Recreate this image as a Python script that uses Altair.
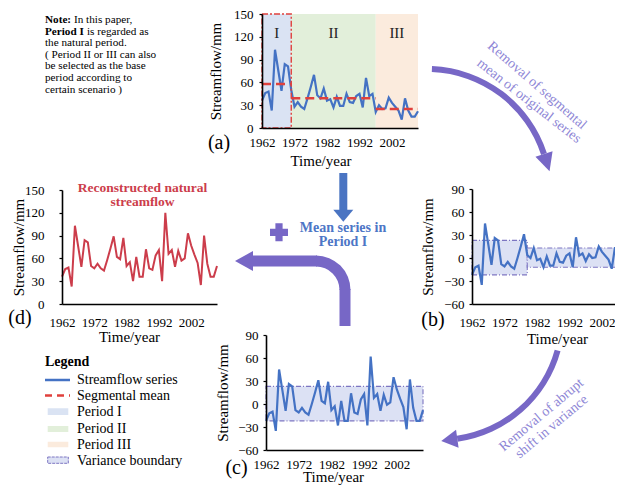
import math
import altair as alt
import pandas as pd

# ---------------- data ----------------
YEARS = list(range(1962, 2011))

# (a) original streamflow series (mm)
ORIGINAL = [36, 46, 48, 23, 103, 76, 49, 84, 81, 50,
            28, 34, 28, 25, 39, 54, 70, 43, 39, 52,
            36, 38, 27, 41, 29, 29, 45, 34, 33, 42,
            45, 27, 66, 42, 45, 21, 30, 25, 26, 40,
            33, 28, 23, 11, 39, 23, 15, 15, 22]

# (b) series after removal of segmental mean
DEMEANED = [-22, -12, -10, -35, 45, 18, -9, 26, 23, -8,
            -11, -5, -11, -14, 0, 15, 31, 4, 0, 13,
            -3, -1, -12, 2, -10, -10, 6, -5, -6, 3,
            6, -12, 27, 3, 6, -4, 5, 0, 1, 15,
            8, 3, -2, -14, 14, -2, -10, -10, -3]

# (c) series after removal of abrupt shift in variance
RESCALED = [-22, -12, -10, -35, 45, 18, -9, 26, 23, -8,
            -11, -5, -11, -14, 0, 15, 31, 4, 1, 29,
            -8, -3, -28, 4, -22, -22, 14, -11, -13, 6,
            13, -28, 62, 8, 13, -9, 12, -1, 2, 35,
            19, 7, -4, -33, 32, -5, -22, -22, -8]

# (d) reconstructed natural streamflow
RECONSTRUCTED = [36, 46, 48, 23, 103, 76, 49, 84, 81, 50,
                 47, 53, 47, 44, 58, 73, 89, 62, 59, 87,
                 50, 55, 30, 62, 36, 36, 72, 47, 45, 64,
                 71, 30, 120, 66, 71, 49, 70, 57, 60, 93,
                 77, 65, 54, 25, 90, 53, 36, 36, 50]

PERIOD_NAMES = ["I", "II", "III"]
PERIOD_START = [1962, 1971, 1997]
PERIOD_END = [1971, 1997, 2010]
PERIOD_MEAN = [58, 39, 25]

BOX_B_START = [1962, 1979]
BOX_B_END = [1979, 2010]
BOX_B_LOW = [-22, -12]
BOX_B_HIGH = [23, 13]

BOX_C_START = [1962]
BOX_C_END = [2010]
BOX_C_LOW = [-22]
BOX_C_HIGH = [23]

X_TICKS = [1962, 1972, 1982, 1992, 2002]
Y_TICKS_POS = [0, 30, 60, 90, 120, 150]
Y_TICKS_DEV = [-60, -30, 0, 30, 60, 90]

NOTE_LINES = ["the natural period.", "( Period II or III can also",
              "be selected as the base", "period according to", "certain scenario )"]
LEGEND_LABELS = ["Streamflow series", "Segmental mean", "Period I", "Period II",
                 "Period III", "Variance boundary"]

# ---------------- styles ----------------
FONT = "Liberation Serif"
W, H = 607, 479
BLUE = "#4472C4"
RED_MEAN = "#E0403C"
RED_LINE = "#CC3D4B"
PURPLE = "#7767C6"
PURPLE_TEXT = "#8E86D6"
ARROW_BLUE = "#4A74C2"
TEXT_BLUE = "#4D76C6"
PERIOD_FILL = ["#DAE3F3", "#E2EFDA", "#FBEBDD"]
BOX_FILL = "#DCE1F4"
BOX_STROKE = "#7D76C2"

ONE = pd.DataFrame({"k": [0]})


def x_scale(x0, x1):
    return alt.Scale(domain=[1962, 2010], range=[x0, x1], nice=False, zero=False)


def y_scale(lo, hi, ybot, ytop):
    return alt.Scale(domain=[lo, hi], range=[ybot, ytop], nice=False, zero=False)


def x_axis(ybot, label_pad, title_pad, title_x):
    return alt.Axis(orient="bottom", offset=ybot - H, values=X_TICKS, format="d", ticks=False,
                    domainColor="#000", domainWidth=1.6, labelFont=FONT, labelFontSize=13,
                    labelColor="#000", labelPadding=label_pad, labelFlush=False, labelOverlap=False,
                    title="Time/year", titleFont=FONT, titleFontSize=15, titleFontWeight=400,
                    titleColor="#000", titlePadding=title_pad, titleX=title_x, grid=False, zindex=3)


def y_axis(x0, values, label_pad, title_pad):
    return alt.Axis(orient="left", offset=-x0, values=values, ticks=True, tickSize=3,
                    tickColor="#000", tickWidth=1.2, domainColor="#000", domainWidth=1.6,
                    labelFont=FONT, labelFontSize=13, labelColor="#000", labelPadding=label_pad,
                    labelFlush=False, labelOverlap=False, title="Streamflow/mm", titleFont=FONT,
                    titleFontSize=15, titleFontWeight=400, titleColor="#000",
                    titlePadding=title_pad, grid=False, zindex=3)


def text(t, x, y, size=14, weight="normal", color="#000", align="left", angle=None):
    kw = dict(text=t, font=FONT, fontSize=size, fontWeight=weight, color=color,
              align=align, baseline="middle")
    if angle is not None:
        kw["angle"] = angle
    return alt.Chart(ONE).mark_text(**kw).encode(x=alt.value(x), y=alt.value(y))


def band(color, width, x, y, x2=None, y2=None, dash=None):
    enc = dict(x=alt.value(x), y=alt.value(y))
    if x2 is not None:
        enc["x2"] = alt.value(x2)
    if y2 is not None:
        enc["y2"] = alt.value(y2)
    kw = dict(color=color, strokeWidth=width)
    if dash:
        kw["strokeDash"] = dash
    return alt.Chart(ONE).mark_rule(**kw).encode(**enc)


def box(x, x2, y, y2, fill, stroke=None, dash=None):
    kw = dict(fill=fill)
    if stroke:
        kw.update(stroke=stroke, strokeWidth=1, strokeDash=dash)
    return alt.Chart(ONE).mark_rect(**kw).encode(
        x=alt.value(x), x2=alt.value(x2), y=alt.value(y), y2=alt.value(y2))


def arc(cx, cy, r_in, r_out, t0, t1, color):
    return alt.Chart(ONE).mark_arc(color=color, theta=t0, theta2=t1, radius=r_out,
                                   radius2=r_in).encode(x=alt.value(cx), y=alt.value(cy))


def head(x, y, angle, size, color, path):
    return alt.Chart(ONE).mark_point(shape=path, filled=True, size=size, angle=angle,
                                     color=color, opacity=1, strokeWidth=0).encode(
        x=alt.value(x), y=alt.value(y))


def arc_head(cx, cy, r, t, length, size, color, path):
    ex, ey = cx + r * math.sin(t), cy - r * math.cos(t)
    dx, dy = math.cos(t), math.sin(t)
    ang = math.degrees(math.atan2(dx, -dy)) % 360
    return head(ex + dx * length / 2, ey + dy * length / 2, ang, size, color, path)


# ---------------- panel (a) ----------------
periods = pd.DataFrame({"name": PERIOD_NAMES, "start": PERIOD_START,
                        "end": PERIOD_END, "mean": PERIOD_MEAN})
df_a = pd.DataFrame({"year": YEARS, "value": ORIGINAL})
A_X, A_Y = (254, 410), (120, 6)


def xa(axis=None, field="start:Q"):
    return alt.X(field, scale=x_scale(*A_X), axis=axis)


def ya(field, axis=None):
    return alt.Y(field, scale=y_scale(0, 150, *A_Y), axis=axis)


rects_a = alt.Chart(periods).transform_calculate(lo="0", hi="150").mark_rect().encode(
    x=xa(), x2="end:Q", y=ya("lo:Q"), y2="hi:Q",
    fill=alt.Fill("name:N", scale=alt.Scale(domain=PERIOD_NAMES, range=PERIOD_FILL), legend=None))
border_a = alt.Chart(periods).transform_filter(alt.datum.name == "I").transform_calculate(
    lo="0", hi="150").mark_rect(fillOpacity=0, stroke=RED_MEAN, strokeWidth=1.4,
                                strokeDash=[6, 2, 2, 2]).encode(
    x=xa(), x2="end:Q", y=ya("lo:Q"), y2="hi:Q")
roman_a = alt.Chart(periods).transform_calculate(
    mid="(datum.start + datum.end) / 2", ly="125").mark_text(
    font=FONT, fontSize=15, color="#222").encode(
    x=xa(field="mid:Q"), y=ya("ly:Q"), text="name:N")
line_a = alt.Chart(df_a).mark_line(color=BLUE, strokeWidth=2.2).encode(
    x=xa(x_axis(120, 8, 4, 312.5), "year:Q"),
    y=ya("value:Q", y_axis(254, Y_TICKS_POS, 6, 10)))
means_a = alt.Chart(periods).mark_rule(color=RED_MEAN, strokeDash=[9, 5], strokeWidth=2.5).encode(
    x=xa(), x2="end:Q", y=ya("mean:Q"))
panel_a = [rects_a, roman_a, line_a, means_a, border_a]

# ---------------- panel (b) ----------------
boxes_b = pd.DataFrame({"start": BOX_B_START, "end": BOX_B_END, "low": BOX_B_LOW, "high": BOX_B_HIGH})
df_b = pd.DataFrame({"year": YEARS, "value": DEMEANED})
B_X, B_Y = (464, 620), (296, 181)
rect_b = alt.Chart(boxes_b).mark_rect(fill=BOX_FILL, stroke=BOX_STROKE, strokeWidth=1.1,
                                      strokeDash=[5, 2, 1, 2]).encode(
    x=alt.X("start:Q", scale=x_scale(*B_X), axis=None), x2="end:Q",
    y=alt.Y("low:Q", scale=y_scale(-60, 90, *B_Y), axis=None), y2="high:Q")
line_b = alt.Chart(df_b).mark_line(color=BLUE, strokeWidth=2.2).encode(
    x=alt.X("year:Q", scale=x_scale(*B_X), axis=x_axis(296, 12, 2, 549)),
    y=alt.Y("value:Q", scale=y_scale(-60, 90, *B_Y), axis=y_axis(464, Y_TICKS_DEV, 5, 8)))
panel_b = [rect_b, line_b]

# ---------------- panel (c) ----------------
boxes_c = pd.DataFrame({"start": BOX_C_START, "end": BOX_C_END, "low": BOX_C_LOW, "high": BOX_C_HIGH})
df_c = pd.DataFrame({"year": YEARS, "value": RESCALED})
C_X, C_Y = (258, 415), (442, 327)
rect_c = alt.Chart(boxes_c).mark_rect(fill=BOX_FILL, stroke=BOX_STROKE, strokeWidth=1.1,
                                      strokeDash=[5, 2, 1, 2]).encode(
    x=alt.X("start:Q", scale=x_scale(*C_X), axis=None), x2="end:Q",
    y=alt.Y("low:Q", scale=y_scale(-60, 90, *C_Y), axis=None), y2="high:Q")
line_c = alt.Chart(df_c).mark_line(color=BLUE, strokeWidth=2.2).encode(
    x=alt.X("year:Q", scale=x_scale(*C_X), axis=x_axis(442, 8, -2, 325)),
    y=alt.Y("value:Q", scale=y_scale(-60, 90, *C_Y), axis=y_axis(258, Y_TICKS_DEV, 5, 7)))
panel_c = [rect_c, line_c]

# ---------------- panel (d) ----------------
df_d = pd.DataFrame({"year": YEARS, "value": RECONSTRUCTED})
panel_d = [alt.Chart(df_d).mark_line(color=RED_LINE, strokeWidth=2.0).encode(
    x=alt.X("year:Q", scale=x_scale(54, 209), axis=x_axis(296, 12, 0, 121)),
    y=alt.Y("value:Q", scale=y_scale(0, 150, 296, 182), axis=y_axis(54, Y_TICKS_POS, 15, -2)))]

# ---------------- annotations ----------------
NOTE_SIZE = 11.2
NOTE_Y0, NOTE_DY = 12, 11.6
notes = [
    text("Note:", 37, NOTE_Y0, NOTE_SIZE, "bold"),
    text("In this paper,", 66, NOTE_Y0, NOTE_SIZE),
    text("Period I", 37, NOTE_Y0 + NOTE_DY, NOTE_SIZE, "bold"),
    text("is regarded as", 79, NOTE_Y0 + NOTE_DY, NOTE_SIZE),
]
for i, line in enumerate(NOTE_LINES):
    notes.append(text(line, 37, NOTE_Y0 + NOTE_DY * (i + 2), NOTE_SIZE))

labels = [
    text("(a)", 211, 134.5, 20, align="center"),
    text("(b)", 425, 312, 20, align="center"),
    text("(c)", 228.5, 460, 20, align="center"),
    text("(d)", 12, 310, 20, align="center"),
    text("Reconstructed natural", 134.5, 180, 13.5, "bold", RED_LINE, "center"),
    text("streamflow", 134.5, 194, 13.5, "bold", RED_LINE, "center"),
    text("Mean series in", 335, 219.8, 14, "bold", TEXT_BLUE, "center"),
    text("Period I", 335, 234, 14, "bold", TEXT_BLUE, "center"),
    text("Removal of segmental", 529, 77.5, 14, color=PURPLE_TEXT, align="center", angle=41),
    text("mean of original series", 521, 93, 14, color=PURPLE_TEXT, align="center", angle=38),
    text("Removal of abrupt", 533.5, 407, 14, color=PURPLE_TEXT, align="center", angle=320),
    text("shift in variance", 543.7, 418.7, 14, color=PURPLE_TEXT, align="center", angle=320),
]

TRI = "M0,-1L1,1L-1,1Z"
TRI_SHORT = "M0,-0.9L1,0.9L-1,0.9Z"
TRI_FLAT = "M0,-0.6L1,0.6L-1,0.6Z"
arrows = [
    # (a) -> (b)
    arc(419, 184, 120, 126, 0.04, 1.257, PURPLE),
    arc_head(419, 184, 123, 1.257, 18, 324, PURPLE, TRI),
    # (b) -> (c)
    arc(432, 310, 119, 125, 1.84, 3.0, PURPLE),
    arc_head(432, 310, 122, 3.0, 16, 324, PURPLE, TRI_SHORT),
    # (c) -> (d)
    band(PURPLE, 11, 337, 281, y2=318),
    arc(308, 282, 23.5, 34.5, 0, math.pi / 2, PURPLE),
    band(PURPLE, 11, 243, 253, x2=309),
    head(236, 253, 270, 400, PURPLE, TRI_SHORT),
    # (a) -> mean series
    band(ARROW_BLUE, 8, 335.3, 165, y2=203),
    head(335.3, 207.7, 180, 400, ARROW_BLUE, TRI_FLAT),
    head(271, 224.3, 0, 324, PURPLE, "cross"),
]

legend_y = [372, 387.5, 403.7, 421, 437, 452.7]
legend = [text("Legend", 37, 353.7, 14, "bold")]
for lbl, yy in zip(LEGEND_LABELS, legend_y):
    legend.append(text(lbl, 69, yy, 14))
legend += [
    band(BLUE, 2.5, 37, legend_y[0], x2=62),
    band(RED_MEAN, 2.5, 37, legend_y[1], x2=62, dash=[7, 5]),
    box(39.7, 60.3, 400.3, 407, PERIOD_FILL[0]),
    box(39.7, 60.3, 418, 424, PERIOD_FILL[1]),
    box(39.7, 60.3, 433.7, 439.3, PERIOD_FILL[2]),
    box(39.7, 60.3, 449, 455.3, BOX_FILL, BOX_STROKE, [3, 1]),
]

chart = alt.layer(*panel_a, *panel_b, *panel_c, *panel_d, *notes, *labels, *arrows,
                  *legend).resolve_scale(x="independent", y="independent").properties(
    width=W, height=H, padding=0, autosize=alt.AutoSizeParams(type="none"),
    background="white").configure_view(stroke=None).configure_axis(titleFontWeight=400)

chart.save("out.html", embed_options={"renderer": "svg", "actions": False})
